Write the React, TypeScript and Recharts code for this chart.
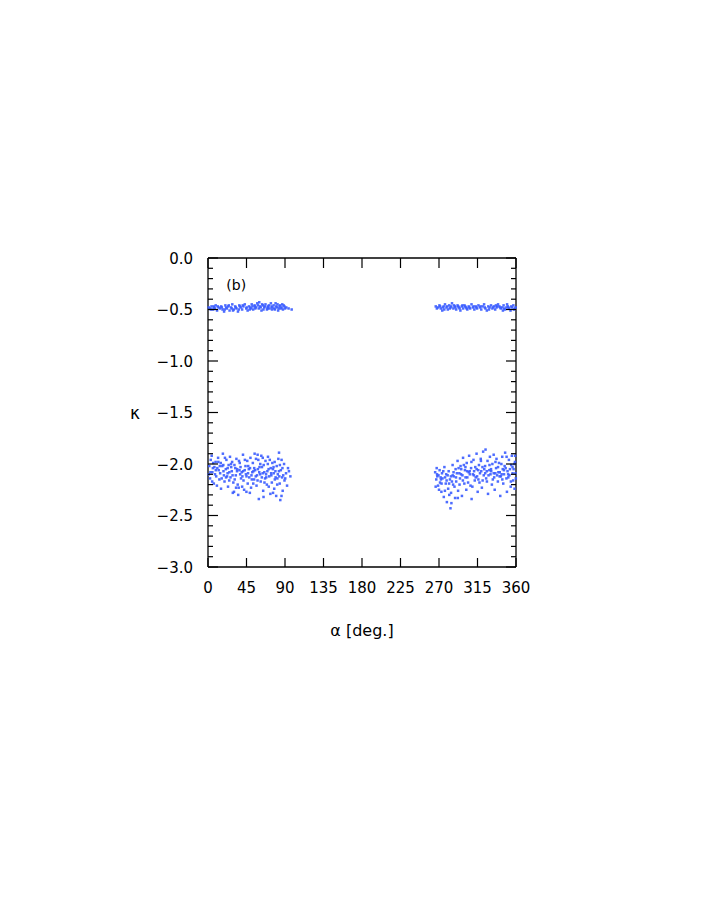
import React from "react";
import { ReferenceDot, Scatter, ScatterChart, XAxis, YAxis } from "recharts";

// alpha [deg.], kappa pairs, one array per cluster
const upperLeft: [number, number][] = [
  [0.8, -0.48], [2.5, -0.49], [4.1, -0.47], [5.9, -0.5], [7.2, -0.48], [9.0, -0.46], [10.6, -0.51], [12.3, -0.48], [13.9, -0.49], [15.4, -0.47],
  [17.0, -0.5], [18.8, -0.52], [20.3, -0.46], [22.1, -0.49], [23.7, -0.47], [25.2, -0.51], [26.9, -0.48], [28.4, -0.45], [30.1, -0.5], [31.8, -0.47],
  [33.3, -0.49], [35.0, -0.52], [36.6, -0.46], [38.2, -0.48], [39.9, -0.5], [41.4, -0.47], [43.0, -0.45], [44.7, -0.49], [46.3, -0.51], [47.9, -0.47],
  [49.5, -0.48], [51.1, -0.45], [52.8, -0.5], [54.4, -0.46], [56.0, -0.48], [57.6, -0.44], [59.3, -0.49], [60.8, -0.47], [62.5, -0.51], [64.1, -0.46],
  [65.7, -0.48], [67.2, -0.45], [68.9, -0.5], [70.4, -0.47], [72.0, -0.49], [73.5, -0.44], [75.1, -0.48], [76.7, -0.46], [78.2, -0.5], [79.8, -0.47],
  [81.3, -0.45], [82.9, -0.49], [84.4, -0.46], [86.0, -0.48], [87.6, -0.5], [89.3, -0.47], [91.5, -0.48], [94.2, -0.49], [97.8, -0.5],
  [3.3, -0.5], [8.1, -0.49], [11.4, -0.47], [16.2, -0.48], [19.5, -0.5], [24.3, -0.46], [27.7, -0.49], [32.4, -0.48], [36.0, -0.5], [40.6, -0.46],
  [45.2, -0.48], [48.7, -0.5], [52.0, -0.47], [55.3, -0.49], [58.4, -0.46], [61.6, -0.48], [63.3, -0.45], [66.5, -0.47], [69.6, -0.48], [71.2, -0.46],
  [74.3, -0.47], [77.5, -0.49], [80.5, -0.48], [83.6, -0.47], [85.2, -0.49], [88.4, -0.46], [90.1, -0.49], [79.0, -0.44], [69.9, -0.49], [74.8, -0.5],
  [82.0, -0.51], [86.8, -0.45], [59.9, -0.43], [64.8, -0.5], [54.9, -0.47], [50.3, -0.49], [37.3, -0.47], [21.2, -0.48], [6.6, -0.47], [29.2, -0.51],
];

const upperRight: [number, number][] = [
  [266.2, -0.47], [268.9, -0.48], [270.5, -0.46], [272.1, -0.49], [273.8, -0.51], [275.4, -0.47], [277.0, -0.45], [278.7, -0.48], [280.3, -0.5], [281.9, -0.46],
  [283.5, -0.48], [285.2, -0.44], [286.8, -0.49], [288.4, -0.47], [290.1, -0.5], [291.7, -0.46], [293.3, -0.48], [295.0, -0.51], [296.6, -0.47], [298.2, -0.49],
  [299.8, -0.46], [301.5, -0.48], [303.1, -0.5], [304.7, -0.47], [306.4, -0.49], [308.0, -0.45], [309.6, -0.48], [311.3, -0.5], [312.9, -0.47], [314.5, -0.49],
  [316.1, -0.46], [317.8, -0.48], [319.4, -0.5], [321.0, -0.47], [322.7, -0.45], [324.3, -0.49], [325.9, -0.51], [327.6, -0.47], [329.2, -0.48], [330.8, -0.46],
  [332.4, -0.49], [334.1, -0.47], [335.7, -0.5], [337.3, -0.48], [339.0, -0.45], [340.6, -0.47], [342.2, -0.49], [343.9, -0.48], [345.5, -0.46], [347.1, -0.5],
  [348.8, -0.48], [350.4, -0.47], [352.0, -0.49], [353.6, -0.51], [355.3, -0.48], [356.9, -0.46], [358.5, -0.49], [359.6, -0.48],
  [267.5, -0.49], [271.3, -0.47], [274.6, -0.48], [276.2, -0.5], [279.5, -0.47], [282.7, -0.49], [284.3, -0.47], [287.6, -0.46], [289.2, -0.48], [292.5, -0.47],
  [294.1, -0.49], [297.4, -0.46], [300.6, -0.47], [302.3, -0.49], [305.5, -0.48], [310.4, -0.47], [313.7, -0.48], [318.6, -0.47], [323.5, -0.48], [328.4, -0.5],
  [333.2, -0.48], [338.1, -0.47], [341.4, -0.48], [346.3, -0.49], [351.2, -0.48], [354.5, -0.47], [357.7, -0.5], [349.6, -0.45], [344.7, -0.51], [336.5, -0.46],
];

const lowerLeft: [number, number][] = [
  [1.5, -2.02], [3.2, -1.96], [2.4, -2.14], [5.1, -2.08], [4.3, -1.92], [6.8, -2.19], [7.5, -2.03], [8.9, -1.98], [9.6, -2.12], [10.4, -2.21],
  [11.8, -1.94], [12.5, -2.06], [13.3, -2.15], [14.9, -1.99], [15.2, -2.24], [16.7, -2.02], [17.4, -1.9], [18.6, -2.11], [19.3, -2.17], [20.8, -2.05],
  [21.5, -1.96], [22.9, -2.09], [23.4, -2.22], [24.1, -2.01], [25.7, -1.93], [26.3, -2.13], [27.8, -2.07], [28.2, -1.98], [29.6, -2.18], [30.4, -2.27],
  [31.9, -2.04], [32.5, -2.11], [33.2, -1.95], [34.7, -2.2], [35.3, -2.3], [36.8, -2.06], [37.1, -1.99], [38.6, -2.14], [39.4, -2.08], [40.9, -1.91],
  [41.5, -2.16], [42.2, -2.25], [43.8, -2.02], [44.3, -2.1], [45.9, -1.97], [46.4, -2.19], [47.7, -2.05], [48.2, -2.13], [49.6, -1.94], [50.3, -2.23],
  [51.8, -2.08], [52.4, -1.99], [53.9, -2.15], [54.5, -1.9], [55.1, -2.06], [56.7, -2.21], [57.3, -2.11], [58.8, -1.96], [59.4, -2.34], [60.2, -2.03],
  [61.6, -2.17], [62.3, -1.92], [63.9, -2.09], [64.5, -2.26], [65.1, -2.01], [66.7, -2.14], [67.2, -1.97], [68.8, -2.2], [69.4, -2.07], [70.1, -1.93],
  [71.5, -2.12], [72.9, -2.29], [73.3, -2.04], [74.6, -2.18], [75.2, -1.99], [76.8, -2.09], [77.4, -2.24], [78.1, -2.15], [79.7, -2.31], [80.3, -2.02],
  [81.6, -2.1], [82.2, -1.95], [83.8, -2.19], [84.5, -2.35], [85.1, -2.06], [86.7, -2.13], [87.3, -2.26], [88.9, -2.0], [89.4, -2.16], [91.2, -2.09],
  [93.5, -2.04], [96.3, -2.12],
  [2.8, -2.08], [4.9, -2.17], [6.1, -1.99], [8.2, -2.1], [10.9, -2.04], [12.1, -1.98], [14.2, -2.09], [16.0, -2.14], [17.9, -2.01], [19.8, -1.94],
  [21.1, -2.13], [23.0, -2.04], [24.8, -2.16], [26.9, -2.0], [28.7, -2.11], [30.9, -2.01], [32.8, -2.23], [34.1, -2.05], [36.2, -1.97], [38.0, -2.03],
  [39.9, -2.22], [41.0, -2.07], [43.1, -1.96], [45.0, -2.12], [47.0, -2.02], [48.9, -2.28], [50.8, -2.11], [52.9, -2.19], [54.0, -2.04], [56.1, -1.95],
  [57.9, -2.16], [59.9, -2.08], [61.1, -2.0], [62.9, -2.13], [64.0, -1.94], [66.0, -2.18], [67.9, -2.1], [69.9, -2.0], [71.0, -2.22], [72.2, -1.96],
  [74.0, -2.11], [75.9, -2.05], [77.9, -1.98], [79.0, -2.13], [80.9, -2.2], [82.9, -2.07], [84.0, -2.01], [86.0, -1.96], [87.9, -2.11], [90.3, -2.14],
  [92.4, -2.21], [94.6, -2.07], [83.0, -1.89], [58.0, -1.91], [64.9, -2.32], [44.9, -2.27], [35.9, -2.23], [29.0, -2.28], [85.9, -2.31], [76.0, -2.28],
  [1.0, -2.1], [5.7, -2.04], [9.1, -2.06], [13.8, -2.02], [18.1, -2.07], [22.3, -2.12], [25.0, -2.08], [27.1, -2.03], [31.2, -2.15], [33.9, -2.07],
  [37.6, -2.1], [40.2, -2.12], [42.9, -2.06], [46.8, -2.09], [49.1, -2.04], [51.2, -2.15], [53.1, -2.07], [55.8, -2.12], [58.3, -2.05], [60.9, -2.1],
  [63.1, -2.03], [65.8, -2.08], [68.1, -2.13], [70.8, -2.05], [73.8, -2.09], [76.6, -2.03], [78.8, -2.07], [81.1, -2.14], [83.4, -2.12], [87.0, -2.04],
];

const lowerRight: [number, number][] = [
  [265.5, -2.08], [266.8, -2.15], [267.3, -2.04], [268.9, -2.21], [269.4, -2.11], [270.7, -2.06], [271.2, -2.18], [272.8, -2.27], [273.5, -2.09], [274.1, -2.14],
  [275.6, -2.32], [276.3, -2.03], [277.9, -2.19], [278.4, -2.1], [279.2, -2.37], [280.7, -2.24], [281.3, -2.07], [282.8, -2.15], [283.4, -2.43], [284.1, -2.28],
  [285.9, -2.01], [286.5, -2.2], [287.2, -2.12], [288.8, -2.33], [289.4, -2.05], [290.1, -2.17], [291.7, -1.97], [292.3, -2.26], [293.8, -2.09], [294.5, -2.14],
  [295.2, -2.02], [296.8, -2.31], [297.4, -2.11], [298.1, -1.94], [299.6, -2.19], [300.3, -2.06], [301.9, -2.25], [302.4, -1.99], [303.1, -2.13], [304.7, -2.08],
  [305.2, -1.92], [306.8, -2.21], [307.5, -2.04], [308.1, -2.34], [309.6, -2.1], [310.3, -1.96], [311.8, -2.16], [312.4, -2.03], [313.9, -1.9], [314.5, -2.12],
  [315.2, -2.27], [316.7, -2.01], [317.3, -2.18], [318.8, -1.95], [319.4, -2.07], [320.1, -2.23], [321.6, -1.88], [322.3, -2.11], [323.9, -2.02], [324.4, -1.86],
  [325.1, -2.14], [326.7, -1.97], [327.3, -2.29], [328.8, -2.06], [329.5, -1.93], [330.2, -2.1], [331.8, -2.2], [332.4, -2.0], [333.9, -1.91], [334.5, -2.13],
  [335.1, -2.25], [336.7, -2.04], [337.2, -1.95], [338.8, -2.17], [339.4, -2.08], [340.1, -1.99], [341.6, -2.31], [342.3, -2.12], [343.9, -1.93], [344.5, -2.05],
  [345.1, -2.19], [346.7, -2.02], [347.3, -1.89], [348.8, -2.14], [349.4, -2.27], [350.1, -2.07], [351.7, -1.96], [352.3, -2.11], [353.8, -2.22], [354.4, -2.01],
  [355.1, -1.92], [356.7, -2.16], [357.2, -2.05], [358.8, -1.98], [359.4, -2.09],
  [266.1, -2.22], [268.0, -2.12], [270.0, -2.25], [271.9, -2.13], [273.0, -2.19], [275.0, -2.07], [276.9, -2.26], [278.9, -2.16], [280.1, -2.11], [282.0, -2.3],
  [283.9, -2.12], [285.1, -2.17], [287.0, -2.08], [288.1, -2.22], [290.9, -2.09], [292.9, -2.04], [294.0, -2.2], [296.0, -2.05], [297.9, -2.16], [299.0, -2.01],
  [301.0, -2.13], [302.9, -2.07], [304.0, -2.18], [306.0, -2.1], [307.9, -1.98], [309.0, -2.22], [311.0, -2.07], [312.9, -2.13], [314.0, -2.05], [316.0, -2.15],
  [317.9, -2.09], [319.0, -1.97], [321.0, -2.16], [322.9, -2.05], [324.0, -2.09], [326.0, -2.17], [327.9, -2.11], [329.0, -2.01], [331.0, -2.07], [332.9, -2.15],
  [334.0, -2.09], [336.0, -1.98], [337.9, -2.11], [339.0, -2.03], [341.0, -2.08], [342.9, -2.0], [344.0, -2.15], [346.0, -2.1], [347.9, -2.04], [349.0, -1.93],
  [351.0, -2.13], [352.9, -2.05], [354.0, -2.17], [356.0, -2.09], [357.9, -2.0], [359.0, -1.92], [359.8, -2.14], [358.3, -2.24], [284.5, -2.38], [292.0, -2.33],
  [267.7, -2.1], [272.3, -2.15], [277.1, -2.13], [281.8, -2.19], [286.0, -2.11], [289.9, -2.13], [295.8, -2.1], [300.9, -2.03], [305.9, -2.07], [310.8, -2.11],
  [315.9, -2.06], [320.8, -2.03], [325.8, -2.07], [330.8, -2.05], [335.9, -2.09], [340.8, -2.12], [345.9, -2.06], [350.8, -2.1], [355.9, -2.03], [343.2, -2.1],
];

const xTicks = [0, 45, 90, 135, 180, 225, 270, 315, 360];
const yTicks = [
  0, -0.1, -0.2, -0.3, -0.4, -0.5, -0.6, -0.7, -0.8, -0.9, -1.0, -1.1, -1.2, -1.3, -1.4, -1.5,
  -1.6, -1.7, -1.8, -1.9, -2.0, -2.1, -2.2, -2.3, -2.4, -2.5, -2.6, -2.7, -2.8, -2.9, -3.0,
];

const FONT = "DejaVu Sans";
const INK = "#000";
const DOT = "#3a5cff";

const toPoints = (arr: [number, number][]) => arr.map(([x, y]) => ({ x, y }));
const isMajor = (v: number) => Math.abs(v * 2 - Math.round(v * 2)) < 1e-6;
const fmtY = (v: number) => (Math.abs(v) < 1e-9 ? "0.0" : "\u2212" + Math.abs(v).toFixed(1));

const LeftTick = ({ x, y, payload }: any) => {
  const major = isMajor(payload.value);
  return (
    <g>
      <line x1={x} x2={x + (major ? 10 : 5)} y1={y} y2={y} stroke={INK} strokeWidth={1.2} />
      {major && (
        <text x={x - 15} y={y} dy={5.5} textAnchor="end" fontSize={15} fontFamily={FONT} fill={INK}>
          {fmtY(payload.value)}
        </text>
      )}
    </g>
  );
};

const RightTick = ({ x, y, payload }: any) => {
  const major = isMajor(payload.value);
  return <line x1={x} x2={x - (major ? 10 : 5)} y1={y} y2={y} stroke={INK} strokeWidth={1.2} />;
};

const BottomTick = ({ x, y, payload }: any) => (
  <g>
    <line x1={x} x2={x} y1={y} y2={y - 9} stroke={INK} strokeWidth={1.2} />
    <text x={x} y={y + 26} textAnchor="middle" fontSize={15} fontFamily={FONT} fill={INK}>
      {payload.value}
    </text>
  </g>
);

const TopTick = ({ x, y }: any) => <line x1={x} x2={x} y1={y} y2={y + 10} stroke={INK} strokeWidth={1.2} />;

const Dot = ({ cx, cy }: any) => <rect x={cx - 1.25} y={cy - 1.25} width={2.5} height={2.5} fill={DOT} fillOpacity={0.9} />;

export default function App() {
  const clusters = [upperLeft, upperRight, lowerLeft, lowerRight];
  return (
    <div style={{ width: 700, height: 900 }}>
      <ScatterChart width={700} height={900} margin={{ top: 248, right: 190, bottom: 261, left: 140 }}>
        <XAxis
          xAxisId="b"
          type="number"
          dataKey="x"
          domain={[0, 360]}
          ticks={xTicks}
          interval={0}
          height={80}
          tickSize={0}
          tickMargin={0}
          tickLine={false}
          tick={<BottomTick />}
          axisLine={{ stroke: INK, strokeWidth: 1.3 }}
          label={{ value: "\u03b1 [deg.]", position: "insideBottom", offset: 11, fontSize: 16, fontFamily: FONT, fill: INK }}
        />
        <XAxis
          xAxisId="t"
          orientation="top"
          type="number"
          dataKey="x"
          domain={[0, 360]}
          allowDataOverflow
          ticks={xTicks}
          interval={0}
          height={2}
          tickSize={0}
          tickMargin={0}
          tickLine={false}
          tick={<TopTick />}
          axisLine={{ stroke: INK, strokeWidth: 1.3 }}
        />
        <YAxis
          yAxisId="l"
          type="number"
          dataKey="y"
          domain={[-3, 0]}
          ticks={yTicks}
          interval={0}
          width={60}
          tickSize={0}
          tickMargin={0}
          tickLine={false}
          tick={<LeftTick />}
          axisLine={{ stroke: INK, strokeWidth: 1.3 }}
          label={{ value: "\u03ba", position: "left", offset: 8, fontSize: 17, fontFamily: FONT, fill: INK }}
        />
        <YAxis
          yAxisId="r"
          orientation="right"
          type="number"
          dataKey="y"
          domain={[-3, 0]}
          allowDataOverflow
          ticks={yTicks}
          interval={0}
          width={2}
          tickSize={0}
          tickMargin={0}
          tickLine={false}
          tick={<RightTick />}
          axisLine={{ stroke: INK, strokeWidth: 1.3 }}
        />
        {clusters.map((c, i) => (
          <Scatter key={i} xAxisId="b" yAxisId="l" data={toPoints(c)} shape={<Dot />} isAnimationActive={false} />
        ))}
        <ReferenceDot
          xAxisId="b"
          yAxisId="l"
          x={33}
          y={-0.26}
          r={0}
          fill="none"
          stroke="none"
          label={{ value: "(b)", position: "center", fontSize: 14, fontFamily: FONT, fill: INK }}
        />
      </ScatterChart>
    </div>
  );
}
